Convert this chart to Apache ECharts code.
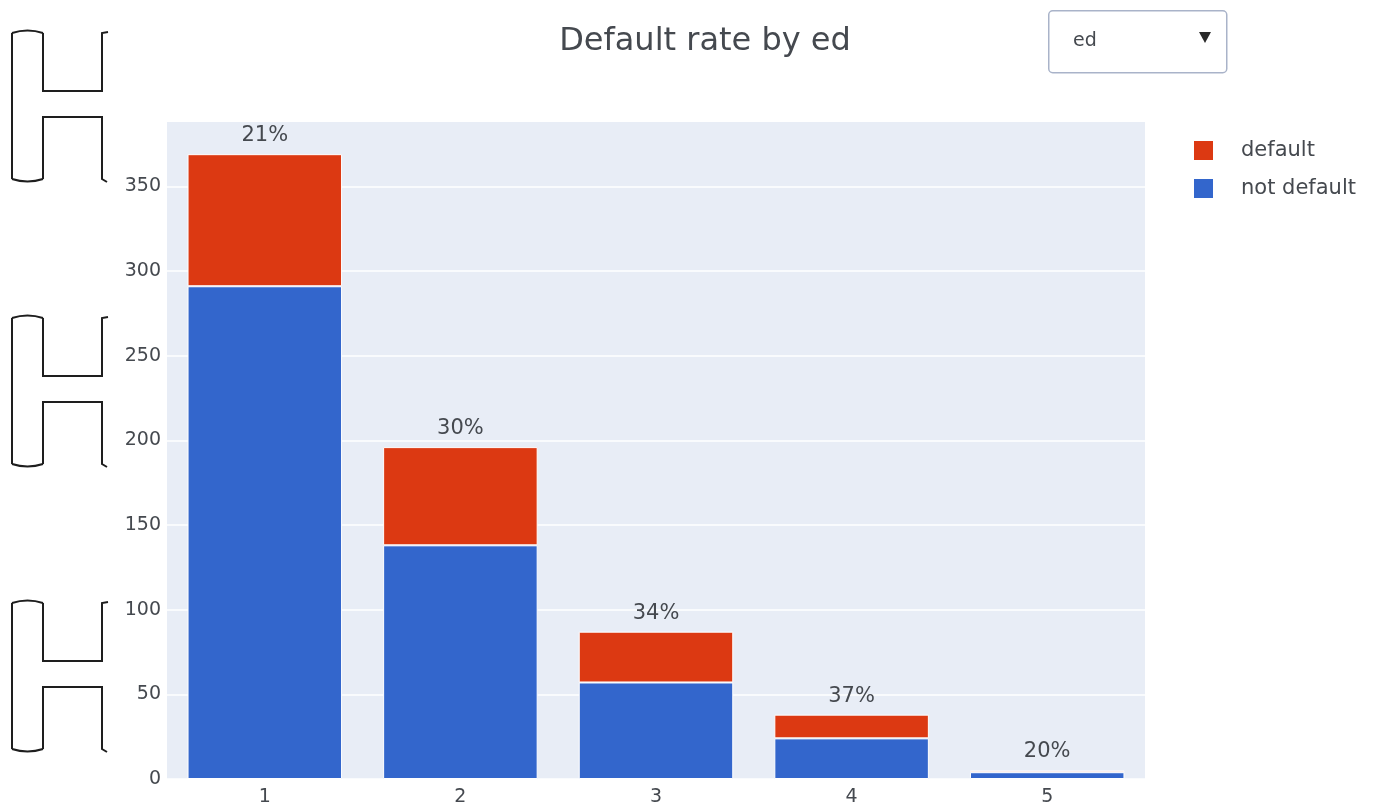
<!DOCTYPE html>
<html>
<head>
<meta charset="utf-8">
<script src="https://cdn.jsdelivr.net/npm/echarts@6/dist/echarts.min.js"></script>
<style>
  html, body { margin: 0; padding: 0; background: #ffffff; }
  #chart { width: 1383px; height: 810px; }
</style>
</head>
<body>
<div id="chart"></div>
<script>
// Education level categories and loan counts per outcome
const categories = ['1', '2', '3', '4', '5'];
const notDefault = [291, 138, 57, 24, 4];
const defaulted = [78, 58, 30, 14, 1];
const yTicks = [0, 50, 100, 150, 200, 250, 300, 350];

const FONT = '"DejaVu Sans", Verdana, sans-serif';
const TEXT = '#45494f';

// Percentage of defaults within each education level
const rateLabel = (i) => {
  const total = notDefault[i] + defaulted[i];
  return Math.round(100 * defaulted[i] / total) + '%';
};

// Bracket-shaped outline drawn down the left margin, built from lines and curves
function bracket(t) {
  const b = t + 146;
  const stroke = { fill: null, stroke: '#1e1e1e', lineWidth: 2 };
  return [
    { type: 'polyline', shape: { points: [[108, t - 1], [102, t], [102, t + 58], [43, t + 58], [43, t]] }, style: stroke },
    { type: 'bezierCurve', shape: { x1: 43, y1: t, x2: 12, y2: t, cpx1: 27.5, cpy1: t - 5 }, style: stroke },
    { type: 'polyline', shape: { points: [[12, t], [12, b]] }, style: stroke },
    { type: 'bezierCurve', shape: { x1: 12, y1: b, x2: 43, y2: b, cpx1: 27.5, cpy1: b + 5 }, style: stroke },
    { type: 'polyline', shape: { points: [[43, b], [43, t + 84], [102, t + 84], [102, b], [107, b + 3]] }, style: stroke }
  ];
}

const chart = echarts.init(document.getElementById('chart'), null, { renderer: 'canvas' });

chart.setOption({
  animation: false,
  backgroundColor: '#ffffff',
  textStyle: { fontFamily: FONT },
  color: ['#3366cc', '#dc3912'],
  grid: {
    left: 167, right: 238, top: 122, bottom: 31,
    show: true, backgroundColor: '#e8edf6', borderWidth: 0
  },
  legend: {
    orient: 'vertical',
    left: 1192, top: 139,
    padding: 0,
    itemWidth: 21, itemHeight: 21, itemGap: 15,
    icon: 'rect',
    data: ['default', 'not default'],
    textStyle: { fontFamily: FONT, fontSize: 21, color: TEXT, padding: [0, 0, 0, 22] }
  },
  xAxis: {
    type: 'category',
    data: categories,
    axisLine: { show: false },
    axisTick: { show: false },
    axisLabel: { fontFamily: FONT, fontSize: 19, color: TEXT, margin: 9 }
  },
  yAxis: {
    type: 'value',
    min: 0, max: 388, interval: 50,
    axisLine: { show: false },
    axisTick: { show: false },
    axisLabel: {
      fontFamily: FONT, fontSize: 19, color: TEXT, margin: 6,
      showMaxLabel: false,
      formatter: (v) => (yTicks.indexOf(v) >= 0 ? String(v) : '')
    },
    splitLine: { show: true, showMaxLine: false, lineStyle: { color: '#ffffff', width: 1.5 } }
  },
  series: [
    {
      name: 'not default',
      type: 'bar',
      stack: 'total',
      data: notDefault,
      barCategoryGap: '21%',
      itemStyle: { color: '#3366cc', borderColor: '#ffffff', borderWidth: 1 }
    },
    {
      name: 'default',
      type: 'bar',
      stack: 'total',
      data: defaulted,
      itemStyle: { color: '#dc3912', borderColor: '#ffffff', borderWidth: 1 },
      label: {
        show: true,
        position: 'top',
        distance: 8,
        fontFamily: FONT,
        fontSize: 21,
        color: TEXT,
        formatter: (p) => rateLabel(p.dataIndex)
      }
    }
  ],
  graphic: [
    {
      type: 'text',
      x: 705, y: 42,
      style: { text: 'Default rate by ed', font: '32px ' + FONT, fill: TEXT, align: 'center', verticalAlign: 'middle' }
    },
    {
      type: 'rect',
      left: 1048, top: 10,
      shape: { x: 0, y: 0, width: 178, height: 62, r: 4 },
      style: { fill: '#ffffff', stroke: '#a9b3c9', lineWidth: 1.5 }
    },
    {
      type: 'text',
      x: 1073, y: 41,
      style: { text: 'ed', font: '19px ' + FONT, fill: TEXT, align: 'left', verticalAlign: 'middle' }
    },
    {
      type: 'polygon',
      left: 1199, top: 32,
      shape: { points: [[0, 0], [12, 0], [6, 11]] },
      style: { fill: '#2a2a2a' }
    },
    ...bracket(33),
    ...bracket(318),
    ...bracket(603)
  ]
});
</script>
</body>
</html>
